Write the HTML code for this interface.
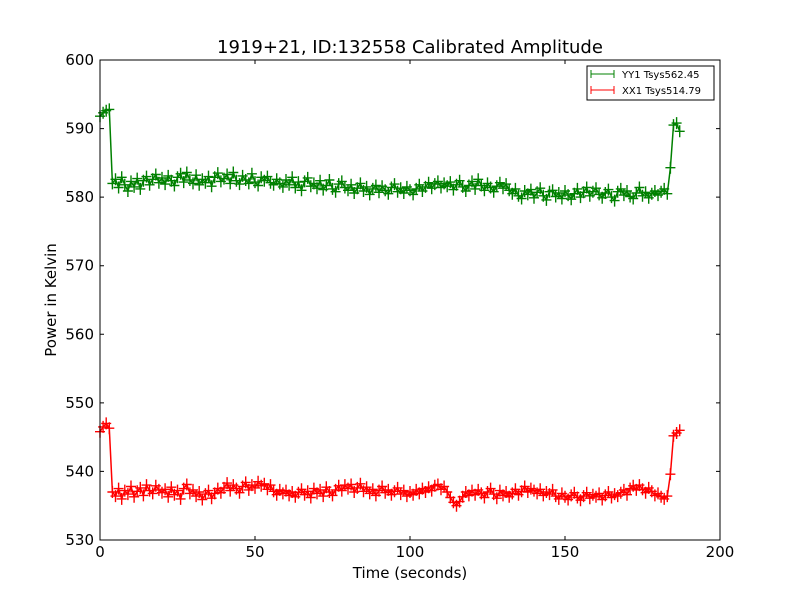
<!DOCTYPE html>
<html><head><meta charset="utf-8"><style>
body{margin:0;background:#fff;}
svg{display:block;font-family:"DejaVu Sans","Liberation Sans",sans-serif;}
</style></head><body>
<svg id="chart" width="800" height="600">
<rect width="800" height="600" fill="#fff"/>
<text x="410" y="53" font-size="18" text-anchor="middle">1919+21, ID:132558 Calibrated Amplitude</text>
<g id="series"></g>
<rect x="100" y="60" width="620" height="480" fill="none" stroke="#000" stroke-width="1"/>
<g id="axes"></g>
<text x="410" y="578" font-size="15" text-anchor="middle">Time (seconds)</text>
<text x="56" y="300" font-size="15" text-anchor="middle" transform="rotate(-90 56 300)">Power in Kelvin</text>
<g>
<rect x="587" y="66" width="127" height="34" fill="#fff" stroke="#000" stroke-width="1"/>
<g>
<line x1="591" y1="74" x2="614" y2="74" stroke="#008000"/><line x1="591" y1="70" x2="591" y2="78" stroke="#008000"/><line x1="614" y1="70" x2="614" y2="78" stroke="#008000"/>
<text x="622" y="78" font-size="10">YY1 Tsys562.45</text></g>
<g>
<line x1="591" y1="90" x2="614" y2="90" stroke="#ff0000"/><line x1="591" y1="86" x2="591" y2="94" stroke="#ff0000"/><line x1="614" y1="86" x2="614" y2="94" stroke="#ff0000"/>
<text x="622" y="94" font-size="10">XX1 Tsys514.79</text></g>
</g>
</svg>
<script>
const xTicks=[0,50,100,150,200];
const yTicks=[530,540,550,560,570,580,590,600];
const yyValues=[591.8,592.3,592.6,592.8,
582.0,582.6,581.4,582.9,581.8,580.9,582.3,581.5,582.7,581.2,582.4,583.0,581.8,582.6,583.3,582.1,
582.8,581.9,583.1,582.4,581.7,582.9,583.4,582.2,583.6,582.5,582.0,583.2,581.8,582.6,582.1,583.0,581.6,582.9,583.5,582.3,
582.7,583.3,582.0,583.6,582.4,581.9,583.1,582.5,582.0,583.4,582.2,581.7,582.9,582.4,583.0,582.1,581.8,582.6,582.0,581.5,
582.5,581.8,582.9,581.4,582.2,581.0,582.3,582.8,581.6,582.0,581.3,582.4,581.1,581.7,582.5,581.2,580.8,581.9,582.3,581.4,
581.0,581.8,580.6,581.3,582.0,580.9,581.5,580.4,581.2,581.7,580.7,581.6,581.0,580.5,581.4,581.9,580.8,581.3,580.6,581.5,
581.0,580.4,581.2,581.8,580.9,581.5,582.1,581.3,581.9,582.3,581.4,582.0,581.6,582.2,581.1,581.8,582.4,581.5,580.9,581.7,
582.3,581.2,582.6,581.7,581.0,582.0,581.4,580.8,581.6,582.1,581.3,581.9,581.0,580.5,581.2,580.2,579.8,580.9,580.4,581.1,
579.9,580.7,581.3,580.2,579.6,580.8,581.0,580.1,580.6,579.8,580.9,580.3,579.7,580.5,581.2,580.0,580.7,581.4,580.2,580.8,
581.3,580.4,579.9,580.6,581.1,580.0,579.5,580.8,581.2,580.3,580.9,580.1,579.8,580.6,581.4,580.2,580.7,579.9,580.5,580.9,
580.3,580.8,581.2,580.5,584.3,590.5,590.8,589.6];
const xxValues=[545.8,546.5,547.0,546.3,
537.0,536.4,537.5,536.0,537.2,536.7,537.8,536.3,537.1,537.6,536.5,538.0,537.2,536.8,537.9,537.3,
536.9,537.4,536.3,537.7,536.6,537.2,536.0,537.5,538.1,536.8,537.3,536.4,537.0,535.9,536.7,537.2,536.1,536.8,537.5,536.9,
537.6,538.3,537.2,538.0,537.5,536.9,537.8,538.4,537.3,538.0,537.6,538.5,537.9,538.2,537.4,538.0,537.1,536.6,537.3,536.8,
537.2,536.5,537.0,536.3,536.9,537.4,536.6,537.1,536.2,537.5,536.8,537.3,536.4,537.7,537.0,536.5,537.3,537.9,537.2,538.0,
537.5,538.1,537.0,537.6,538.2,537.1,537.7,536.8,537.4,536.5,537.2,537.8,536.9,537.3,536.6,537.1,537.6,536.7,537.2,536.4,
537.0,536.6,537.3,536.8,537.5,537.0,537.7,537.2,537.9,538.1,537.4,537.8,537.0,536.2,535.5,535.0,535.6,536.3,537.0,536.5,
537.2,536.6,537.3,536.8,536.2,537.0,537.5,536.7,536.1,537.2,536.5,537.0,536.3,536.8,537.4,536.6,537.1,537.8,537.0,537.5,
537.2,536.8,537.4,536.5,537.0,536.7,537.3,536.4,536.0,536.8,536.3,535.9,536.5,536.9,536.2,535.8,536.4,536.9,536.1,536.6,
536.3,536.8,535.9,536.5,537.0,536.2,536.7,536.4,536.9,537.3,536.6,537.5,537.9,537.3,538.0,537.4,536.9,537.6,537.1,536.5,
536.8,536.3,536.0,536.4,539.6,545.2,545.6,546.0];
const timeStep=1;
const NS='http://www.w3.org/2000/svg';
const xs=t=>100+(t-0)/(200-0)*620;
const ys=v=>540-(v-530)/(600-530)*480;
const axes=document.getElementById('axes');
xTicks.forEach(t=>{
  const p=document.createElementNS(NS,'path');
  p.setAttribute('d',`M${xs(t)} 540v-4M${xs(t)} 60v4`);p.setAttribute('stroke','#000');
  
  
  axes.appendChild(p);
  const tx=document.createElementNS(NS,'text');
  tx.setAttribute('x',xs(t));tx.setAttribute('y',557);tx.setAttribute('font-size','15');tx.setAttribute('text-anchor','middle');
  tx.textContent=t;
  
  
  axes.appendChild(tx);
});
yTicks.forEach(v=>{
  const p=document.createElementNS(NS,'path');
  p.setAttribute('d',`M100 ${ys(v)}h4M720 ${ys(v)}h-4`);p.setAttribute('stroke','#000');
  
  
  axes.appendChild(p);
  const tx=document.createElementNS(NS,'text');
  tx.setAttribute('x',94);tx.setAttribute('y',ys(v)+5);tx.setAttribute('font-size','15');tx.setAttribute('text-anchor','end');
  tx.textContent=v;
  
  
  axes.appendChild(tx);
});
const g=document.getElementById('series');
function draw(vals,color,name){
  let line='',marks='';
  vals.forEach((v,i)=>{const x=xs(i*timeStep),y=ys(v);
    line+=(i?'L':'M')+x.toFixed(1)+' '+y.toFixed(1);
    marks+=`M${(x-5).toFixed(1)} ${y.toFixed(1)}h10M${x.toFixed(1)} ${(y-6).toFixed(1)}v12`;});
  const l=document.createElementNS(NS,'path');
  l.setAttribute('d',line);l.setAttribute('stroke',color);l.setAttribute('fill','none');l.setAttribute('stroke-width','1.5');
  
  
  g.appendChild(l);
  const m=document.createElementNS(NS,'path');
  m.setAttribute('d',marks);m.setAttribute('stroke',color);m.setAttribute('fill','none');m.setAttribute('stroke-width','1.4');
  
  
  g.appendChild(m);
}
draw(yyValues,'#008000','yy1-series');
draw(xxValues,'#ff0000','xx1-series');
</script>
</body></html>
